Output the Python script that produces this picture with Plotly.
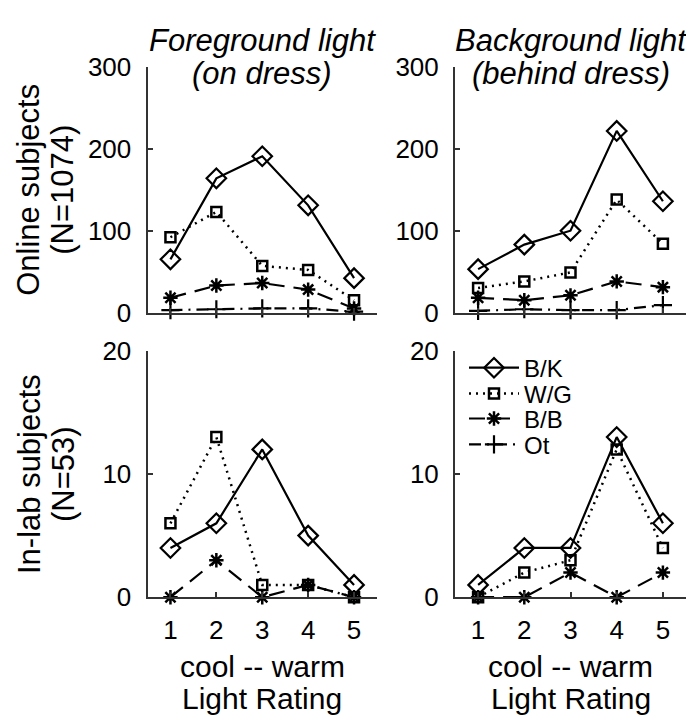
import plotly.graph_objects as go

x_vals = [1, 2, 3, 4, 5]
series_names = ["B/K", "W/G", "B/B", "Ot"]

online_fg_bk = [65, 164, 191, 131, 42]
online_fg_wg = [92, 123, 57, 52, 15]
online_fg_bb = [18, 33, 36, 28, 5]
online_fg_ot = [3, 4, 5, 5, 1]

online_bg_bk = [53, 83, 100, 222, 136]
online_bg_wg = [30, 38, 49, 138, 84]
online_bg_bb = [18, 15, 21, 38, 31]
online_bg_ot = [2, 4, 3, 3, 9]

lab_fg_bk = [4, 6, 12, 5, 1]
lab_fg_wg = [6, 13, 1, 1, 0]
lab_fg_bb = [0, 3, 0, 1, 0]
lab_fg_ot = [None, None, None, None, None]

lab_bg_bk = [1, 4, 4, 13, 6]
lab_bg_wg = [0, 2, 3, 12, 4]
lab_bg_bb = [0, 0, 2, 0, 2]
lab_bg_ot = [None, None, None, None, None]

col_title_lines = [["Foreground light", "(on dress)"], ["Background light", "(behind dress)"]]
row_title_lines = [["Online subjects", "(N=1074)"], ["In-lab subjects", "(N=53)"]]
x_title_lines = ["cool -- warm", "Light Rating"]
online_ticks = [0, 100, 200, 300]
lab_ticks = [0, 10, 20]

W, H = 694, 725
FONT = "Liberation Sans, Arial, Helvetica, sans-serif"
AX = "#333333"

styles = [
    dict(line=dict(color="black", width=2.2, dash="solid"),
         marker=dict(symbol="diamond-open", size=15, color="black", line=dict(width=2.2))),
    dict(line=dict(color="black", width=2.5, dash="2px,5px"),
         marker=dict(symbol="square-open", size=10, color="black", line=dict(width=2.5))),
    dict(line=dict(color="black", width=2.2, dash="16px,9px"),
         marker=dict(symbol="asterisk-open", size=12, color="black", line=dict(width=2.5))),
    dict(line=dict(color="black", width=2.2, dash="12px,6px,2px,6px"),
         marker=dict(symbol="cross-thin-open", size=13, color="black", line=dict(width=2.2))),
]

legend_ids = ["legend", "legend2", "legend3", "legend4"]
legend_centers = [360, 387, 413, 440]

panels = [
    ("x", "y", [online_fg_bk, online_fg_wg, online_fg_bb, online_fg_ot], False),
    ("x2", "y2", [online_bg_bk, online_bg_wg, online_bg_bb, online_bg_ot], False),
    ("x3", "y3", [lab_fg_bk, lab_fg_wg, lab_fg_bb, lab_fg_ot], False),
    ("x4", "y4", [lab_bg_bk, lab_bg_wg, lab_bg_bb, lab_bg_ot], True),
]

fig = go.Figure()
for xa, ya, data, show in panels:
    for name, vals, st, lid in zip(series_names, data, styles, legend_ids):
        fig.add_trace(go.Scatter(
            x=x_vals, y=vals, name=name, mode="lines+markers",
            xaxis=xa, yaxis=ya, showlegend=show, legend=lid, cliponaxis=False,
            line=st["line"], marker=st["marker"]))

def px_x(a, b):
    return [a / W, b / W]

def px_y(top, bottom):
    return [1 - bottom / H, 1 - top / H]

XL = (139.5, 369)
XR = (447, 678)
YT = (46, 302)
YB = (342, 599)

TICKSIZE = 26
TITLESIZE = 31
LABELSIZE = 30
ROWSIZE = 31

def xaxis(domain, anchor, labels):
    return dict(domain=domain, anchor=anchor, range=[0.5, 5.5],
                tickvals=x_vals, showticklabels=labels,
                ticks="inside", ticklen=5, tickwidth=1.5, tickcolor=AX,
                showline=True, linecolor=AX, linewidth=2,
                showgrid=False, zeroline=False, ticklabelstandoff=9,
                tickfont=dict(size=TICKSIZE, color="black", family=FONT))

def yaxis(domain, anchor, rng, ticks):
    return dict(domain=domain, anchor=anchor, range=rng, tickvals=ticks,
                ticks="inside", ticklen=5, tickwidth=1.5, tickcolor=AX,
                showline=True, linecolor=AX, linewidth=2,
                showgrid=False, zeroline=False, ticklabelstandoff=9,
                tickfont=dict(size=TICKSIZE, color="black", family=FONT))

def ann(text, xpx, ypx, size, angle=0, italic=False, xanchor="center"):
    return dict(text=("<i>%s</i>" % text) if italic else text,
                x=xpx / W, y=1 - ypx / H, xref="paper", yref="paper",
                xanchor=xanchor, yanchor="middle", textangle=angle, showarrow=False,
                font=dict(size=size, family=FONT, color="black"))

annotations = []
for (a, b), lines in zip([XL, XR], col_title_lines):
    cx = (a + b) / 2
    annotations.append(ann(lines[0], cx, 18, TITLESIZE, italic=True))
    annotations.append(ann(lines[1], cx, 53, TITLESIZE, italic=True))
for (t, b), lines in zip([YT, YB], row_title_lines):
    cy = (t + b) / 2
    annotations.append(ann(lines[0], 21, cy, ROWSIZE, angle=-90))
    annotations.append(ann(lines[1], 55, cy, ROWSIZE, angle=-90))
for (a, b) in [XL, XR]:
    cx = (a + b) / 2
    annotations.append(ann(x_title_lines[0], cx, 671, LABELSIZE))
    annotations.append(ann(x_title_lines[1], cx, 705, LABELSIZE))

legends = {}
for lid, yc in zip(legend_ids, legend_centers):
    legends[lid] = dict(x=456 / W, y=1 - yc / H, xanchor="left", yanchor="middle",
                        bgcolor="rgba(0,0,0,0)", borderwidth=0,
                        font=dict(size=24, family=FONT, color="black"),
                        itemwidth=50, tracegroupgap=0)

fig.update_layout(
    width=W, height=H, margin=dict(l=0, r=0, t=0, b=0),
    paper_bgcolor="white", plot_bgcolor="white",
    font=dict(family=FONT, color="black"),
    xaxis=xaxis(px_x(*XL), "y", False), yaxis=yaxis(px_y(*YT), "x", [0, 300], online_ticks),
    xaxis2=xaxis(px_x(*XR), "y2", False), yaxis2=yaxis(px_y(*YT), "x2", [0, 300], online_ticks),
    xaxis3=xaxis(px_x(*XL), "y3", True), yaxis3=yaxis(px_y(*YB), "x3", [0, 20], lab_ticks),
    xaxis4=xaxis(px_x(*XR), "y4", True), yaxis4=yaxis(px_y(*YB), "x4", [0, 20], lab_ticks),
    annotations=annotations,
    showlegend=True,
    **legends,
)

fig.write_html("out.html")
